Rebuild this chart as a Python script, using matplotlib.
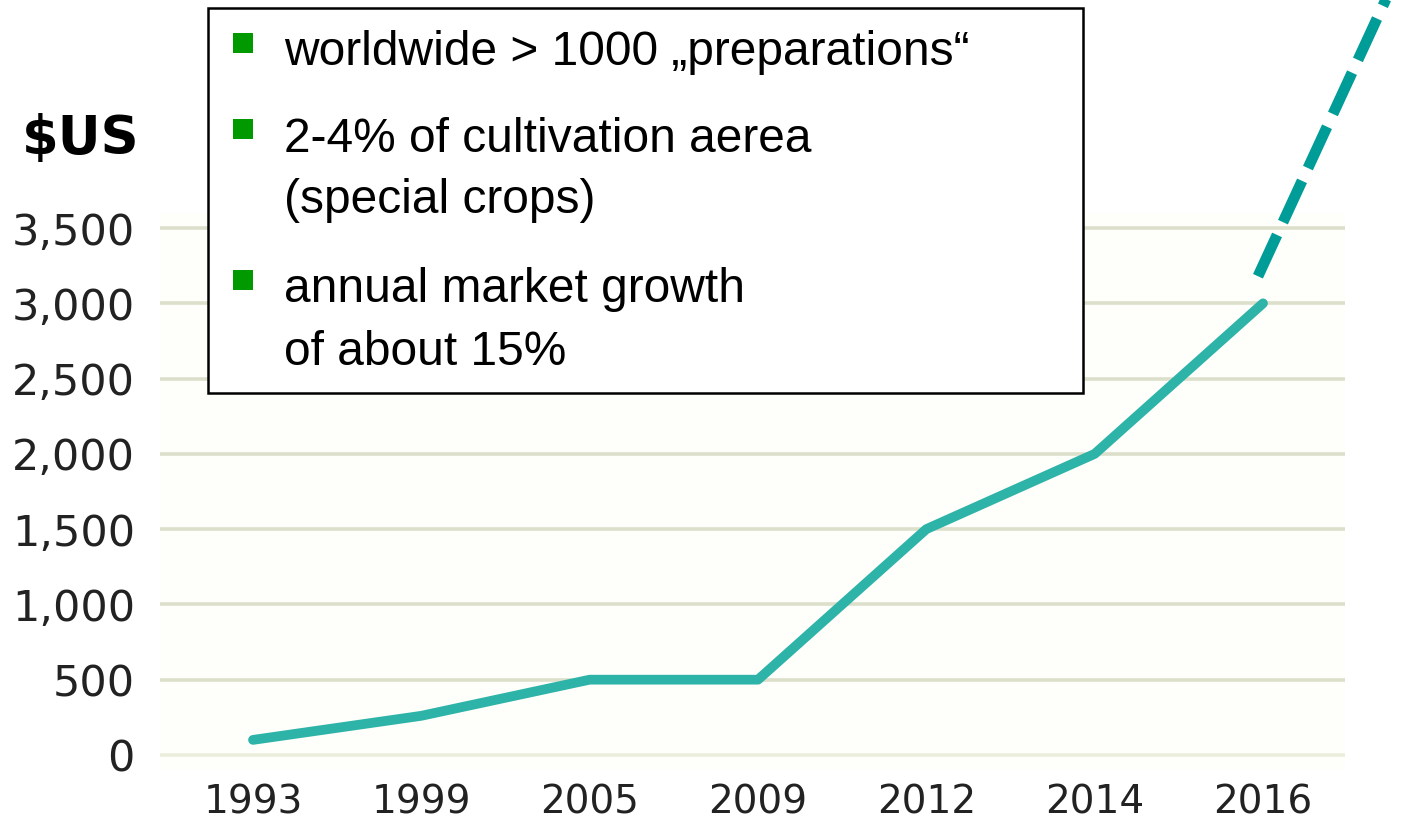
import numpy as np
import matplotlib.pyplot as plt
from matplotlib.patches import Rectangle

years = ['1993', '1999', '2005', '2009', '2012', '2014', '2016']
market = [100, 260, 500, 500, 1500, 2000, 3000]
# dashed trend running off the top of the chart
trend_x = [5.97, 6.755]
trend_y = [3180, 5080]
yticks = [0, 500, 1000, 1500, 2000, 2500, 3000, 3500]
ylabels = ['0', '500', '1,000', '1,500', '2,000', '2,500', '3,000', '3,500']
bullets = [
    ['worldwide > 1000 \u201epreparations\u201c'],
    ['2-4% of cultivation aerea', '(special crops)'],
    ['annual market growth', 'of about 15%'],
]

W, H = 1425, 827
fig = plt.figure(figsize=(W / 100, H / 100), dpi=100)
ax = fig.add_axes([160 / W, 1 - 770 / H, 1185 / W, 557 / H])
ax.set_facecolor('#fefefb')

x = np.arange(len(years))
ax.plot(x, market, color='#2db3a7', lw=7, solid_joinstyle='round',
        solid_capstyle='round', zorder=3)
ax.plot(trend_x, trend_y, color='#009c98', lw=7.8, dashes=(4.2, 1.3),
        dash_capstyle='butt', clip_on=False, zorder=4)

ax.set_xlim(-0.5525, 6.487)
ax.set_ylim(-100, 3600)
ax.set_yticks(yticks)
ax.set_yticklabels(ylabels)
ax.set_xticks(x)
ax.set_xticklabels(years)
ax.grid(axis='y', color='#dcdfca', lw=2.6)
ax.yaxis.get_gridlines()[0].set_color('#eceedd')
for s in ax.spines.values():
    s.set_visible(False)
ax.tick_params(axis='both', length=0, colors='#222222')
ax.tick_params(axis='y', pad=18, labelsize=31)
ax.tick_params(axis='x', pad=10, labelsize=28)

fig.text(22 / W, 1 - 154 / H, '$US', fontsize=38, fontweight='bold',
         family='DejaVu Sans', va='baseline', ha='left')

# text box
fig.add_artist(Rectangle((208 / W, 1 - 393 / H), 875 / W, 385 / H,
                         transform=fig.transFigure, facecolor='white',
                         edgecolor='black', lw=1.8, zorder=5))
baselines = [[65], [152, 213], [302, 365]]
tops = [33, 119, 270]
for item, bl, top in zip(bullets, baselines, tops):
    fig.add_artist(Rectangle((233 / W, 1 - (top + 20) / H), 20 / W, 20 / H,
                             transform=fig.transFigure, facecolor='#009900',
                             edgecolor='none', zorder=6))
    for line, b in zip(item, bl):
        fig.text(284 / W, 1 - b / H, line, fontsize=34.5,
                 family='Liberation Sans', va='baseline', ha='left',
                 color='black', zorder=7)

fig.savefig('out.png', dpi=100)
